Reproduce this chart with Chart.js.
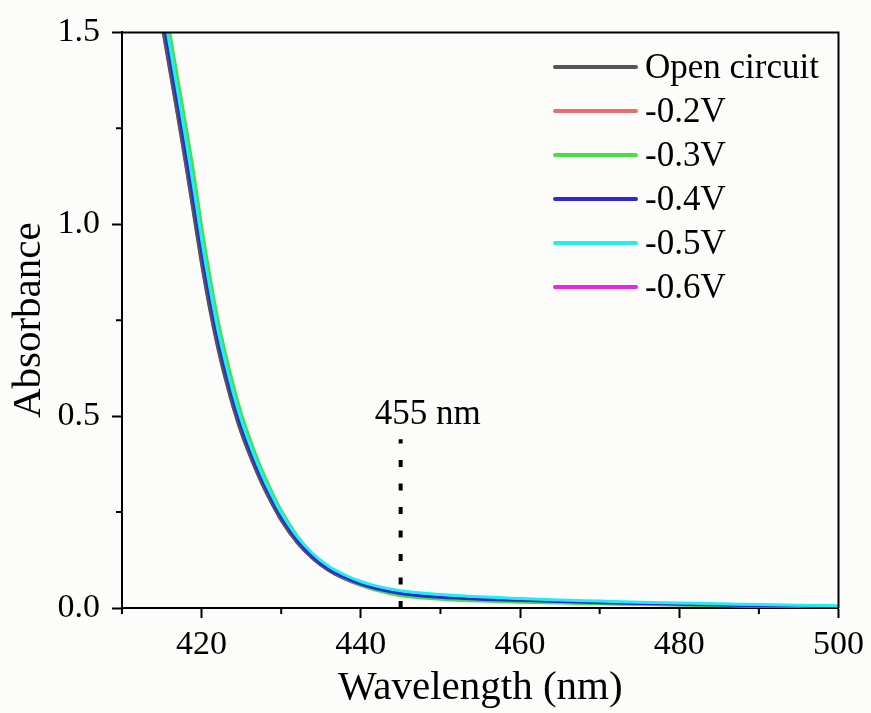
<!DOCTYPE html>
<html>
<head>
<meta charset="utf-8">
<script src="https://cdn.jsdelivr.net/npm/chart.js@4.4.1/dist/chart.umd.min.js"></script>
<style>
  html, body { margin: 0; padding: 0; background: #fcfcfa; }
  #wrap { width: 871px; height: 713px; }
</style>
</head>
<body>
<div id="wrap"><canvas id="myChart" width="871" height="713"></canvas></div>
<script>
const wavelengths = [414, 415, 416, 417, 418, 419, 420, 421, 422, 423, 424, 425, 426, 427, 428, 429, 430,
  432, 434, 436, 438, 440, 442, 445, 450, 455, 460, 465, 470, 475, 480, 485, 490, 495, 500];

const openCircuit = [1.64, 1.52, 1.40, 1.28, 1.155, 1.025, 0.895, 0.78, 0.68, 0.595, 0.52, 0.455, 0.40, 0.35, 0.305, 0.265, 0.228,
  0.17, 0.128, 0.097, 0.076, 0.060, 0.048, 0.036, 0.027, 0.022, 0.019, 0.016, 0.013, 0.011, 0.009, 0.007, 0.006, 0.004, 0.003];
const minus02 = [1.645, 1.525, 1.405, 1.285, 1.16, 1.03, 0.90, 0.784, 0.684, 0.598, 0.523, 0.457, 0.402, 0.352, 0.306, 0.266, 0.229,
  0.171, 0.128, 0.097, 0.075, 0.059, 0.047, 0.035, 0.026, 0.021, 0.018, 0.015, 0.012, 0.010, 0.008, 0.007, 0.005, 0.004, 0.003];
const minus03 = [1.74, 1.62, 1.50, 1.38, 1.26, 1.135, 0.995, 0.87, 0.757, 0.663, 0.58, 0.506, 0.445, 0.389, 0.34, 0.295, 0.254,
  0.188, 0.138, 0.103, 0.078, 0.060, 0.046, 0.032, 0.023, 0.018, 0.015, 0.013, 0.011, 0.009, 0.008, 0.006, 0.005, 0.004, 0.003];
const minus04 = [1.676, 1.556, 1.436, 1.316, 1.191, 1.064, 0.931, 0.813, 0.707, 0.619, 0.541, 0.473, 0.416, 0.364, 0.318, 0.276, 0.238,
  0.178, 0.133, 0.101, 0.079, 0.062, 0.050, 0.038, 0.028, 0.023, 0.020, 0.017, 0.014, 0.012, 0.010, 0.008, 0.006, 0.005, 0.003];
const minus05 = [1.706, 1.586, 1.466, 1.346, 1.224, 1.097, 0.961, 0.84, 0.73, 0.64, 0.559, 0.489, 0.43, 0.377, 0.329, 0.287, 0.248,
  0.186, 0.141, 0.108, 0.086, 0.069, 0.057, 0.045, 0.035, 0.029, 0.025, 0.021, 0.018, 0.015, 0.013, 0.011, 0.009, 0.007, 0.006];
const minus06 = [1.674, 1.554, 1.434, 1.314, 1.189, 1.062, 0.929, 0.811, 0.705, 0.617, 0.539, 0.471, 0.414, 0.362, 0.316, 0.274, 0.236,
  0.176, 0.131, 0.100, 0.078, 0.061, 0.049, 0.037, 0.027, 0.022, 0.019, 0.016, 0.013, 0.011, 0.009, 0.007, 0.006, 0.004, 0.003];

const seriesLabels = ['Open circuit', '-0.2V', '-0.3V', '-0.4V', '-0.5V', '-0.6V'];
const seriesValues = [openCircuit, minus02, minus03, minus04, minus05, minus06];
const seriesColors = ['#555555', '#ee6b6b', '#44e044', '#2a2adc', '#22eeee', '#ee22ee'];
// drawing order: higher number is drawn first (underneath)
const seriesOrder = [4, 6, 3, 2, 1, 5];

const xTicks = [420, 440, 460, 480, 500];
const xMinorTicks = [410, 430, 450, 470, 490];
const yTicks = [0, 0.5, 1.0, 1.5];
const yMinorTicks = [0.25, 0.75, 1.25];

const markerWavelength = 445;
const markerTop = 0.44;
const markerLabel = '455 nm';

const fontFamily = "'Liberation Serif', 'Times New Roman', serif";

function toPoints(values) {
  return values.map((v, i) => ({ x: wavelengths[i], y: v }));
}

const datasets = seriesValues.map((values, i) => ({
  label: seriesLabels[i],
  data: toPoints(values),
  borderColor: seriesColors[i],
  borderWidth: 3,
  pointRadius: 0,
  cubicInterpolationMode: 'monotone',
  order: seriesOrder[i],
}));

datasets.push({
  label: 'marker',
  data: [{ x: markerWavelength, y: 0 }, { x: markerWavelength, y: markerTop }],
  borderColor: '#000',
  borderWidth: 4,
  borderDash: [7, 16.5],
  pointRadius: 0,
  order: 0,
});

const framePlugin = {
  id: 'frame',
  afterDraw(chart) {
    const ctx = chart.ctx;
    const area = chart.chartArea;
    const xs = chart.scales.x;
    const ys = chart.scales.y;

    ctx.save();
    ctx.strokeStyle = '#000';
    ctx.lineWidth = 2;
    ctx.beginPath();
    ctx.moveTo(area.left, area.top);
    ctx.lineTo(area.right, area.top);
    ctx.lineTo(area.right, area.bottom);
    ctx.stroke();

    ctx.beginPath();
    xMinorTicks.forEach((v) => {
      const px = xs.getPixelForValue(v);
      ctx.moveTo(px, area.bottom);
      ctx.lineTo(px, area.bottom + 6);
    });
    yMinorTicks.forEach((v) => {
      const py = ys.getPixelForValue(v);
      ctx.moveTo(area.left, py);
      ctx.lineTo(area.left - 6, py);
    });
    ctx.stroke();

    ctx.fillStyle = '#000';
    ctx.font = '35px ' + fontFamily;
    ctx.textAlign = 'center';
    ctx.textBaseline = 'alphabetic';
    ctx.fillText(markerLabel, xs.getPixelForValue(448.4), ys.getPixelForValue(0.48));

    // legend
    ctx.textAlign = 'left';
    ctx.textBaseline = 'middle';
    ctx.lineWidth = 4;
    ctx.lineCap = 'round';
    seriesLabels.forEach((label, i) => {
      const rowY = 67 + i * 44;
      ctx.strokeStyle = seriesColors[i];
      ctx.beginPath();
      ctx.moveTo(555, rowY);
      ctx.lineTo(636, rowY);
      ctx.stroke();
      ctx.fillText(label, 645, rowY + 2);
    });
    ctx.restore();
  }
};

const ctx = document.getElementById('myChart').getContext('2d');
const myChart = new Chart(ctx, {
  type: 'line',
  data: { datasets: datasets },
  options: {
    responsive: false,
    animation: false,
    devicePixelRatio: 1,
    layout: { padding: { top: 30, right: 32, left: 0, bottom: 0 } },
    plugins: {
      legend: { display: false },
      tooltip: { enabled: false },
    },
    scales: {
      x: {
        type: 'linear',
        min: 410,
        max: 500,
        afterBuildTicks: (scale) => { scale.ticks = xTicks.map((v) => ({ value: v })); },
        afterFit: (scale) => { scale.height = 105; },
        border: { display: true, color: '#000', width: 2 },
        grid: { drawOnChartArea: false, drawTicks: true, tickLength: 10, tickColor: '#000', tickWidth: 2 },
        ticks: { color: '#000', padding: 7, maxRotation: 0, font: { family: fontFamily, size: 34 } },
        title: {
          display: true,
          text: 'Wavelength (nm)',
          color: '#000',
          padding: { top: 0, bottom: 0 },
          font: { family: fontFamily, size: 41 },
        },
      },
      y: {
        min: 0,
        max: 1.5,
        afterBuildTicks: (scale) => { scale.ticks = yTicks.map((v) => ({ value: v })); },
        afterFit: (scale) => { scale.width = 122; },
        border: { display: true, color: '#000', width: 2 },
        grid: { drawOnChartArea: false, drawTicks: true, tickLength: 10, tickColor: '#000', tickWidth: 2 },
        ticks: {
          color: '#000',
          padding: 12,
          font: { family: fontFamily, size: 34 },
          callback: (value) => Number(value).toFixed(1),
        },
        title: {
          display: true,
          text: 'Absorbance',
          color: '#000',
          padding: { top: 5, bottom: 0 },
          font: { family: fontFamily, size: 41 },
        },
      },
    },
  },
  plugins: [framePlugin],
});
</script>
</body>
</html>
